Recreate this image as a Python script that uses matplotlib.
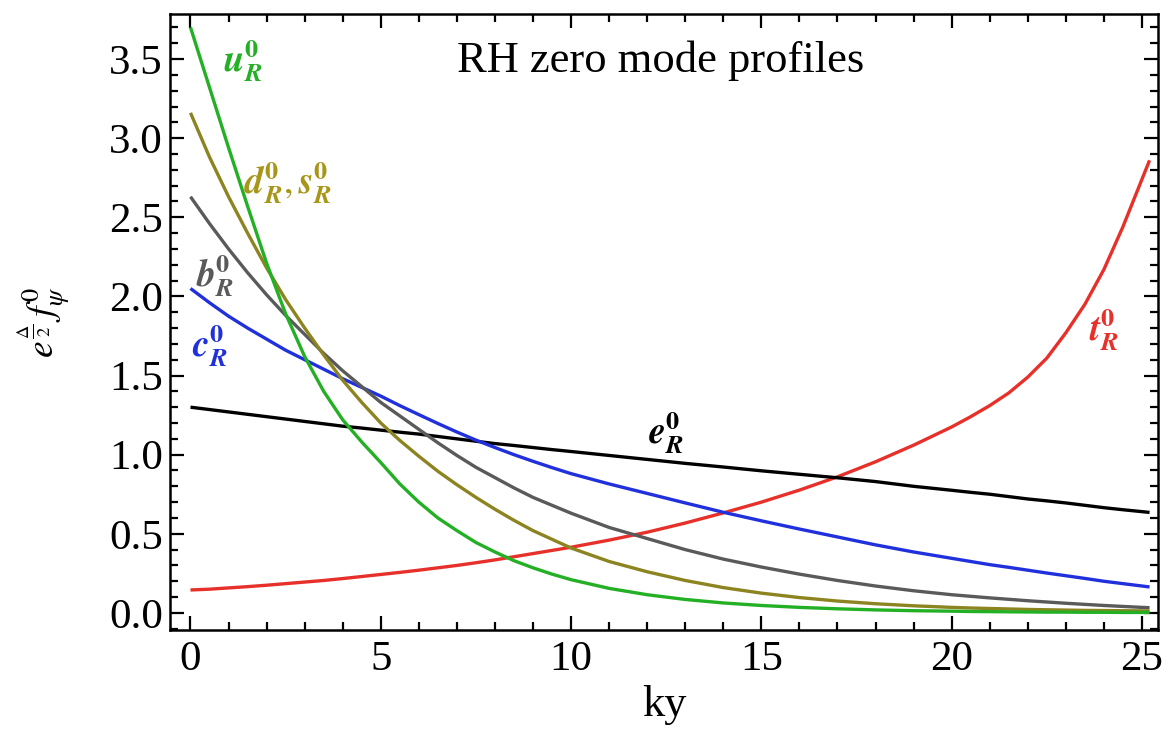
import matplotlib
matplotlib.use("Agg")
import matplotlib.pyplot as plt
from matplotlib.ticker import MultipleLocator

plt.rcParams['font.family'] = ['Liberation Serif', 'DejaVu Serif']
plt.rcParams['mathtext.fontset'] = 'stix'

# sample positions along ky
ky = [0, 0.5, 1, 1.5, 2, 2.5, 3, 3.5, 4, 4.5, 5, 5.5, 6, 6.5, 7, 7.5, 8, 8.5, 9, 9.5, 10,
      11, 12, 13, 14, 15, 16, 17, 18, 19, 20,
      20.5, 21, 21.5, 22, 22.5, 23, 23.5, 24, 24.5, 25, 25.2]

u_R = [3.70, 3.32, 2.94, 2.57, 2.21, 1.89, 1.62, 1.40, 1.22, 1.08, 0.95, 0.815, 0.70,
       0.60, 0.52, 0.445, 0.385, 0.33, 0.285, 0.245, 0.21,
       0.155, 0.115, 0.085, 0.063, 0.047, 0.035, 0.026, 0.019, 0.014, 0.011,
       0.009, 0.008, 0.007, 0.006, 0.005, 0.005, 0.004, 0.004, 0.003, 0.003, 0.003]

ds_R = [3.16, 2.88, 2.63, 2.40, 2.18, 1.98, 1.80, 1.63, 1.47, 1.33, 1.20, 1.09, 0.99,
        0.895, 0.81, 0.73, 0.655, 0.585, 0.52, 0.465, 0.41,
        0.325, 0.26, 0.205, 0.16, 0.125, 0.097, 0.075, 0.058, 0.045, 0.035,
        0.031, 0.028, 0.025, 0.022, 0.020, 0.018, 0.016, 0.015, 0.014, 0.013, 0.013]

b_R = [2.63, 2.46, 2.30, 2.15, 2.01, 1.88, 1.76, 1.64, 1.53, 1.43, 1.33, 1.245, 1.16,
       1.075, 0.995, 0.92, 0.855, 0.79, 0.73, 0.68, 0.63,
       0.54, 0.47, 0.40, 0.34, 0.29, 0.245, 0.205, 0.17, 0.14, 0.115,
       0.105, 0.095, 0.086, 0.077, 0.069, 0.061, 0.054, 0.047, 0.041, 0.035, 0.033]

c_R = [2.05, 1.96, 1.875, 1.80, 1.73, 1.66, 1.60, 1.54, 1.48, 1.425, 1.37, 1.31, 1.253,
       1.197, 1.143, 1.092, 1.045, 1.0, 0.958, 0.918, 0.88,
       0.815, 0.755, 0.695, 0.636, 0.582, 0.53, 0.48, 0.43, 0.385, 0.345,
       0.325, 0.305, 0.288, 0.27, 0.252, 0.235, 0.218, 0.20, 0.185, 0.17, 0.164]

e_R = [1.30, 1.285, 1.27, 1.255, 1.24, 1.225, 1.21, 1.195, 1.18, 1.168, 1.155, 1.142,
       1.13, 1.115, 1.10, 1.085, 1.07, 1.058, 1.045, 1.032, 1.02,
       0.995, 0.97, 0.945, 0.922, 0.898, 0.876, 0.854, 0.83, 0.80, 0.775,
       0.762, 0.75, 0.735, 0.72, 0.708, 0.695, 0.68, 0.665, 0.652, 0.64, 0.635]

t_R = [0.145, 0.15, 0.158, 0.166, 0.175, 0.185, 0.195, 0.205, 0.217, 0.23, 0.243,
       0.256, 0.27, 0.285, 0.30, 0.317, 0.335, 0.355, 0.375, 0.395, 0.415,
       0.46, 0.51, 0.568, 0.632, 0.70, 0.776, 0.86, 0.955, 1.06, 1.175,
       1.24, 1.31, 1.39, 1.49, 1.61, 1.77, 1.95, 2.17, 2.44, 2.74, 2.86]

x_ticks = [0, 5, 10, 15, 20, 25]
y_ticks = [0.0, 0.5, 1.0, 1.5, 2.0, 2.5, 3.0, 3.5]
y_ticklabels = ["0.0", "0.5", "1.0", "1.5", "2.0", "2.5", "3.0", "3.5"]

c_green = "#24b024"
c_olive = "#8c8420"
c_olive_lbl = "#a8961a"
c_grey = "#5a5a5a"
c_blue = "#2030dc"
c_black = "#000000"
c_red = "#e8302a"

fig = plt.figure(figsize=(11.72, 7.41), dpi=100)
ax = fig.add_axes([0.145, 0.150, 0.843, 0.831])

lw = 2.4
kw = dict(lw=lw, solid_joinstyle='round', solid_capstyle='butt')
ax.plot(ky, t_R, color=c_red, **kw)
ax.plot(ky, e_R, color=c_black, **kw)
ax.plot(ky, c_R, color=c_blue, **kw)
ax.plot(ky, b_R, color=c_grey, **kw)
ax.plot(ky, ds_R, color=c_olive, **kw)
ax.plot(ky, u_R, color=c_green, **kw)

ax.set_xlim(-0.54, 25.42)
ax.set_ylim(-0.107, 3.784)

ax.set_xticks(x_ticks)
ax.set_xticklabels([str(v) for v in x_ticks])
ax.set_yticks(y_ticks)
ax.set_yticklabels(y_ticklabels)
ax.xaxis.set_minor_locator(MultipleLocator(1))
ax.yaxis.set_minor_locator(MultipleLocator(0.1))
ax.tick_params(which='both', direction='in', top=True, right=True, width=1.6,
               labelsize=31, color='black')
ax.tick_params(which='major', length=10)
ax.tick_params(which='minor', length=6)
ax.tick_params(axis='x', which='major', pad=8)
ax.tick_params(axis='y', which='major', pad=5)
for s in ax.spines.values():
    s.set_linewidth(1.8)

lbl = 27
ax.text(12.35, 3.49, "RH zero mode profiles", fontsize=32, ha='center', va='center')
ax.text(1.39, 3.49, r"$\boldsymbol{u}_{\boldsymbol{R}}^{\mathbf{0}}$", color=c_green,
        fontsize=lbl, ha='center', va='center')
ax.text(2.55, 2.72, r"$\boldsymbol{d}_{\boldsymbol{R}}^{\mathbf{0}},\boldsymbol{s}_{\boldsymbol{R}}^{\mathbf{0}}$",
        color=c_olive_lbl, fontsize=lbl, ha='center', va='center')
ax.text(0.65, 2.13, r"$\boldsymbol{b}_{\boldsymbol{R}}^{\mathbf{0}}$", color=c_grey,
        fontsize=lbl, ha='center', va='center')
ax.text(0.52, 1.69, r"$\boldsymbol{c}_{\boldsymbol{R}}^{\mathbf{0}}$", color=c_blue,
        fontsize=lbl, ha='center', va='center')
ax.text(12.5, 1.14, r"$\boldsymbol{e}_{\boldsymbol{R}}^{\mathbf{0}}$", color=c_black,
        fontsize=lbl, ha='center', va='center')
ax.text(24.0, 1.79, r"$\boldsymbol{t}_{\boldsymbol{R}}^{\mathbf{0}}$", color=c_red,
        fontsize=lbl, ha='center', va='center')

ax.set_xlabel("ky", fontsize=32)
ax.xaxis.set_label_coords(0.5, -0.09)
ax.set_ylabel(r"$e^{\frac{\Delta}{2}}\,f_{\psi}^{0}$", fontsize=27)
ax.yaxis.set_label_coords(-0.098, 0.5)

fig.savefig("out.png", dpi=100)
